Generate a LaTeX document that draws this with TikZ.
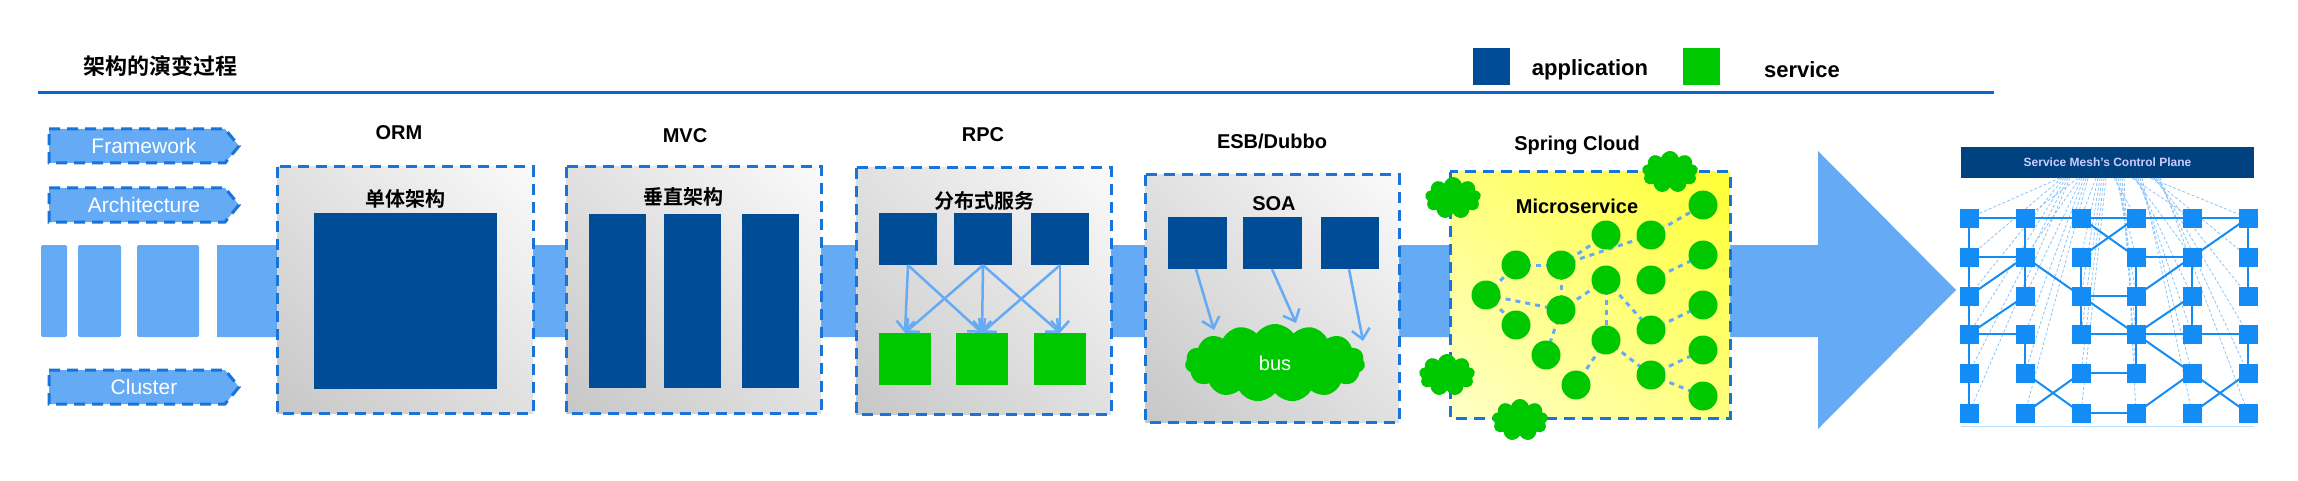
\documentclass[tikz,border=0pt]{standalone}
\usepackage{fontspec}
\setmainfont{Liberation Sans}
\newfontfamily\cjk{Noto Sans CJK SC}[BoldFont={Noto Sans CJK SC Bold}]
\usetikzlibrary{shapes.symbols,arrows.meta,shadings}
\definecolor{band}{RGB}{100,170,245}
\definecolor{dblue}{RGB}{0,76,151}
\definecolor{sgreen}{RGB}{0,200,0}
\definecolor{dash}{RGB}{24,116,216}
\definecolor{line}{RGB}{10,102,204}
\definecolor{mesh}{RGB}{20,140,245}
\tikzset{
 box/.style={draw=dash,line width=3pt,dash pattern=on 11pt off 7pt},
 gbox/.style={lower left=black!22,upper right=black!2,upper left=black!12,lower right=black!12},
 ybox/.style={lower left=yellow!22,upper right=yellow!80,upper left=yellow!50,lower right=yellow!50},
 tag/.style={draw=dash,line width=3pt,dash pattern=on 11pt off 7pt,fill=band},
 tagtxt/.style={text=white,font=\fontsize{21}{21}\selectfont},
 lbl/.style={font=\bfseries\fontsize{20}{20}\selectfont},
 cn/.style={font=\cjk\bfseries\fontsize{20}{20}\selectfont},
 app/.style={fill=dblue,inner sep=0},
 svc/.style={fill=sgreen,inner sep=0},
 arr/.style={draw=band,line width=2.5pt,-{Straight Barb[length=10pt,width=18pt]}},
 ms/.style={circle,fill=sgreen,minimum size=29pt,inner sep=0},
 md/.style={draw=band,line width=3pt,dash pattern=on 5pt off 5pt},
 cl/.style={cloud,cloud puffs=9,fill=sgreen,inner sep=0,minimum width=56pt,minimum height=42pt},
 mn/.style={fill=mesh,minimum size=19pt,inner sep=0},
 me/.style={draw=mesh,line width=2pt},
 mf/.style={draw=mesh!50,line width=0.8pt,dash pattern=on 3pt off 2pt},
}
\begin{document}
\begin{tikzpicture}[x=1pt,y=-1pt]
\useasboundingbox (0,0) rectangle (2298,481);
% title & line
\node[font=\cjk\bfseries\fontsize{22}{22}\selectfont,anchor=west] (title) at (80,66) {架构的演变过程};
\draw[line,line width=3pt] (38,93) -- (1994,93);
% legend
\fill[dblue] (1473,48) rectangle (1510,85);
\node[lbl,font=\bfseries\fontsize{22}{22}\selectfont] (lapp) at (1590,70) {application};
\fill[sgreen] (1683,48) rectangle (1720,85);
\node[lbl,font=\bfseries\fontsize{22}{22}\selectfont] (lsvc) at (1802,70) {service};
% band and big arrow
\foreach \a/\b in {41/67,78/121,137/199}{\fill[band,rounded corners=2pt] (\a,245) rectangle (\b,337);}
\fill[band] (217,245) -- (1818,245) -- (1818,151) -- (1956,290) -- (1818,429) -- (1818,337) -- (217,337) -- cycle;
% tags
\foreach \y/\t/\n in {146/Framework/tf,205/Architecture/ta,387/Cluster/tc}{
 \draw[tag] (49,\y-17) -- (225,\y-17) -- (239,\y) -- (225,\y+17) -- (49,\y+17) -- cycle;
 \node[tagtxt] (\n) at (144,\y) {\t};
}
% ORM
\shade[gbox] (277,167) rectangle (533,413);
\draw[box] (277,167) rectangle (533,413);
\node[lbl] (orm) at (399,133) {ORM};
\node[cn] (dt) at (405,199) {单体架构};
\fill[dblue] (314,213) rectangle (497,389);
% MVC
\shade[gbox] (566,167) rectangle (821,413);
\draw[box] (566,167) rectangle (821,413);
\node[lbl] (mvc) at (685,136) {MVC};
\node[cn] (cz) at (683,197) {垂直架构};
\foreach \a in {589,664,742}{\fill[dblue] (\a,214) rectangle (\a+57,388);}
% RPC
\shade[gbox] (856,168) rectangle (1111,414);
\draw[box] (856,168) rectangle (1111,414);
\node[lbl] (rpc) at (983,135) {RPC};
\node[cn] (fb) at (984,201) {分布式服务};
\node[app,minimum width=58pt,minimum height=52pt] (r1) at (908,239) {};
\node[app,minimum width=58pt,minimum height=52pt] (r2) at (983,239) {};
\node[app,minimum width=58pt,minimum height=52pt] (r3) at (1060,239) {};
\node[svc,minimum width=52pt,minimum height=52pt] (s1) at (905,359) {};
\node[svc,minimum width=52pt,minimum height=52pt] (s2) at (982,359) {};
\node[svc,minimum width=52pt,minimum height=52pt] (s3) at (1060,359) {};
\foreach \a/\b in {r1/s1,r1/s2,r2/s1,r2/s2,r2/s3,r3/s2,r3/s3}{\draw[arr] (\a.south) -- (\b.north);}
% SOA
\shade[gbox] (1145,175) rectangle (1399,422);
\draw[box] (1145,175) rectangle (1399,422);
\node[lbl] (esb) at (1272,141) {ESB/Dubbo};
\node[lbl] (soa) at (1274,204) {SOA};
\node[app,minimum width=59pt,minimum height=52pt] (o1) at (1197,243) {};
\node[app,minimum width=59pt,minimum height=52pt] (o2) at (1272,243) {};
\node[app,minimum width=58pt,minimum height=52pt] (o3) at (1350,243) {};
\node[cloud,cloud puffs=15,cloud puff arc=110,aspect=2.3,fill=sgreen,minimum width=180pt,minimum height=78pt,inner sep=0,text=white,font=\fontsize{20}{20}\selectfont] (bus) at (1275,363) {bus};
\coordinate (b1) at (1214,330);
\coordinate (b2) at (1296,323);
\coordinate (b3) at (1363,341);
\draw[arr] ([xshift=-1pt]o1.south) -- (b1);
\draw[arr] (o2.south) -- (b2);
\draw[arr] ([xshift=-1pt]o3.south) -- (b3);
% Spring Cloud
\shade[ybox] (1450,172) rectangle (1730,418);
\draw[box] (1450,172) rectangle (1730,418);
\node[lbl] (sc) at (1577,145) {Spring Cloud};
\node[lbl] (micro) at (1577,206) {Microservice};
\foreach \n/\x/\y in {1/1486/295,2/1516/265,3/1561/265,4/1606/235,5/1651/235,6/1703/205,7/1703/255,8/1606/280,9/1651/280,10/1561/310,11/1516/325,12/1546/355,13/1576/385,14/1606/340,15/1651/330,16/1703/305,17/1703/350,18/1651/375,19/1703/396}{
 \coordinate (c\n) at (\x,\y);}
\foreach \a/\b in {1/2,2/3,3/4,3/5,5/6,1/10,1/11,3/10,10/12,8/10,8/14,14/13,14/18,8/15,9/7,15/16,18/17,18/19}{
 \draw[md] (c\a) -- (c\b);}
\foreach \n in {1,...,19}{\node[ms] (cc\n) at (c\n) {};}
\node[cl] (k1) at (1453,198) {};
\node[cl] (k2) at (1670,172) {};
\node[cl] (k3) at (1447,375) {};
\node[cl] (k4) at (1520,420) {};
% Service mesh
\node[fill=dblue!85!black,minimum width=293pt,minimum height=31pt,inner sep=0,text=white!80!blue,font=\bfseries\fontsize{12}{12}\selectfont] (cp) at (2107.5,162.5) {Service Mesh's Control Plane};
\draw[mesh!30,line width=1pt] (1961,426) -- (2254,426);
\foreach \c/\x in {0/1969,1/2025,2/2081,3/2136,4/2192,5/2248}{
 \foreach \r/\y in {0/218,1/257,2/296,3/334,4/373,5/413}{
  \coordinate (m\c\r) at (\x,\y);
  \coordinate (f\c\r) at (2060+\c*18+\r*2,178);
 }}
\foreach \c in {0,...,5}{\foreach \r in {0,...,5}{\draw[mf] (f\c\r) -- (m\c\r);}}
\foreach \a/\b in {00/10,10/20,20/30,30/40,40/50,20/31,30/21,
 00/01,01/02,02/03,03/04,04/05,01/11,10/11,11/12,13/14,02/11,03/12,03/13,11/22,
 21/22,22/23,22/32,22/33,31/32,32/33,33/34,31/41,41/50,41/32,41/42,42/43,
 50/51,51/52,53/54,23/33,33/43,43/53,33/42,33/44,24/34,14/25,24/15,44/35,44/55,54/45,25/35}{
 \draw[me] (m\a) -- (m\b);}
\foreach \c in {0,...,5}{\foreach \r in {0,...,5}{\node[mn] (n\c\r) at (m\c\r) {};}}
\end{tikzpicture}
\end{document}
